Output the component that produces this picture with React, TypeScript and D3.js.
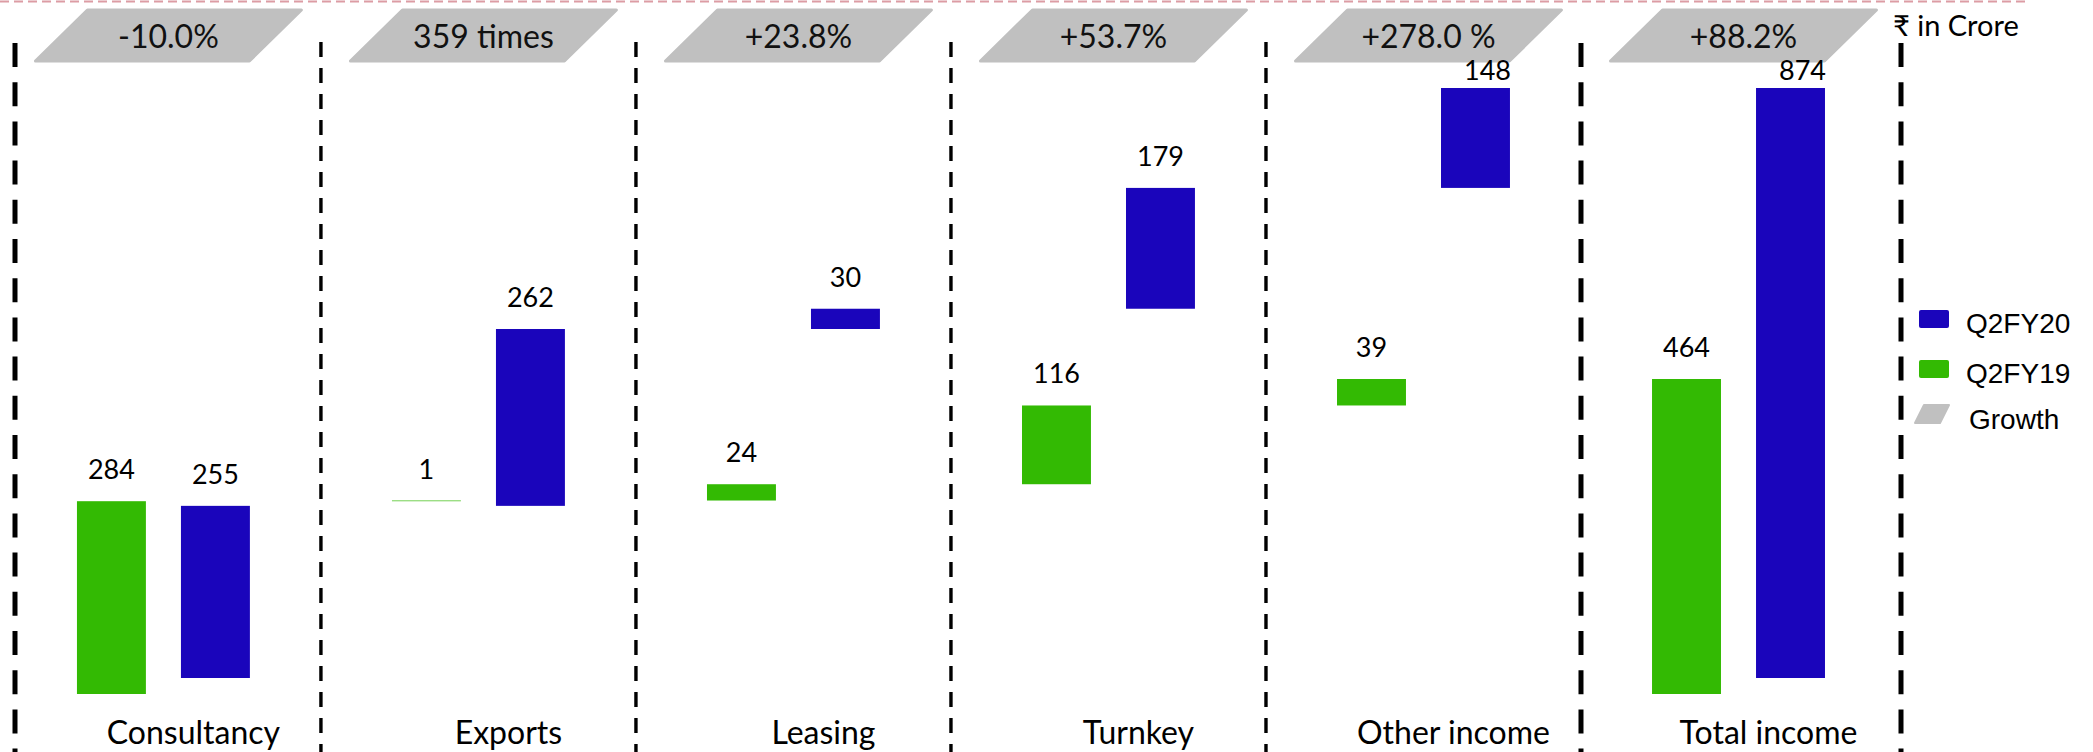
import * as d3 from 'd3';

const categories = ['Consultancy', 'Exports', 'Leasing', 'Turnkey', 'Other income', 'Total income'];
const q2fy19 = [284, 1, 24, 116, 39, 464];
const q2fy20 = [255, 262, 30, 179, 148, 874];
const growthLabels = ['-10.0%', '359 times', '+23.8%', '+53.7%', '+278.0 %', '+88.2%'];
const seriesNames = ['Q2FY19', 'Q2FY20'];
const unitLabel = '₹ in Crore';

const W = 2093;
const H = 752;
const GREEN = '#33ba03';
const BLUE = '#1a05bb';
const GREY = '#c0c0c0';
const FONT = "Lato, 'Noto Sans', sans-serif";
const LEGEND_FONT = "'Liberation Sans', Arial, sans-serif";

// waterfall: each part floats on the running sum, the last one (total) sits on zero
function floating(values: number[]) {
  let acc = 0;
  return values.map((v, i) => {
    if (i === values.length - 1) return { start: 0, end: v, value: v };
    const s = acc;
    acc += v;
    return { start: s, end: acc, value: v };
  });
}

export default function App() {
  const x = d3
    .scaleBand()
    .domain(categories)
    .range([15, 1901])
    .paddingInner(0.451)
    .paddingOuter(0.219)
    .align(0.449);
  const xs = d3.scaleBand().domain(seriesNames).range([0, x.bandwidth()]).paddingInner(0.337);

  const greenParts = floating(q2fy19);
  const blueParts = floating(q2fy20);

  const yGreen = d3
    .scaleLinear()
    .domain([0, q2fy19[q2fy19.length - 1]])
    .range([694, 379]);
  const yBlue = d3
    .scaleLinear()
    .domain([0, q2fy20[q2fy20.length - 1]])
    .range([678, 88]);

  const step = x.step();
  const gap = step - x.bandwidth();
  const dividers = [
    { x: x.range()[0], thick: true },
    ...categories.slice(0, -1).map((c, i) => ({
      x: (x(c) ?? 0) + x.bandwidth() + gap / 2,
      thick: i >= categories.length - 2,
    })),
    { x: x.range()[1], thick: true },
  ];

  const series = [
    { name: 'Q2FY19', parts: greenParts, y: yGreen, color: GREEN },
    { name: 'Q2FY20', parts: blueParts, y: yBlue, color: BLUE },
  ];

  const badgeW = 214;
  const slant = 52;
  const badgeTop = 10;
  const badgeBottom = 61;

  return (
    <svg
      width={W}
      height={H}
      style={{ position: 'absolute', left: 0, top: 0, background: '#fff' }}
      fontFamily={FONT}
    >
      <line x1={0} x2={2030} y1={1.5} y2={1.5} stroke="#dc9ca4" strokeWidth={2} strokeDasharray="9 5" />

      {dividers.map((d, i) => (
        <line
          key={i}
          x1={d.x}
          x2={d.x}
          y1={d.thick ? 43 : 42}
          y2={H}
          stroke="#000"
          strokeWidth={d.thick ? 5 : 3.4}
          strokeDasharray={d.thick ? '24 15.2' : '15 11'}
        />
      ))}

      {categories.map((c, i) => {
        const cx = (x(c) ?? 0) + x.bandwidth() / 2 + 5;
        const pts = [
          [cx - badgeW / 2 - slant / 2, badgeBottom],
          [cx - badgeW / 2 + slant / 2, badgeTop],
          [cx + badgeW / 2 + slant / 2, badgeTop],
          [cx + badgeW / 2 - slant / 2, badgeBottom],
        ];
        return (
          <g key={c}>
            <polygon
              points={pts.map((p) => p.join(',')).join(' ')}
              fill={GREY}
              stroke={GREY}
              strokeWidth={3}
              strokeLinejoin="round"
            />
            <text x={cx} y={48} textAnchor="middle" fontSize={32} fill="#111">
              {growthLabels[i]}
            </text>
          </g>
        );
      })}

      {series.map((s) =>
        categories.map((c, i) => {
          const p = s.parts[i];
          const bx = (x(c) ?? 0) + (xs(s.name) ?? 0);
          const top = s.y(p.end);
          const bottom = s.y(p.start);
          const ly = top - 22;
          // labels that would hit the growth badges are kept just under them, nudged right like the original
          const clamped = ly < 80;
          return (
            <g key={s.name + c}>
              <rect x={bx} y={top} width={xs.bandwidth()} height={Math.max(bottom - top, 0)} fill={s.color} />
              <text
                x={bx + xs.bandwidth() / 2 + (clamped ? 12 : 0)}
                y={clamped ? 80 : ly}
                textAnchor="middle"
                fontSize={27}
                fill="#000"
              >
                {p.value}
              </text>
            </g>
          );
        })
      )}

      {categories.map((c) => (
        <text key={c} x={(x(c) ?? 0) + x.bandwidth() / 2 + 30} y={744} textAnchor="middle" fontSize={32} fill="#000">
          {c}
        </text>
      ))}

      <text x={1893} y={36} fontSize={29} fill="#000">
        {unitLabel}
      </text>

      <g fontFamily={LEGEND_FONT} fontSize={28} fill="#000">
        <rect x={1919} y={310} width={30} height={18} rx={2} fill={BLUE} />
        <text x={1966} y={333}>{seriesNames[1]}</text>
        <rect x={1919} y={360} width={30} height={18} rx={2} fill={GREEN} />
        <text x={1966} y={383}>{seriesNames[0]}</text>
        <polygon
          points="1915,423 1924,405 1949,405 1940,423"
          fill={GREY}
          stroke={GREY}
          strokeWidth={2}
          strokeLinejoin="round"
        />
        <text x={1969} y={429}>Growth</text>
      </g>
    </svg>
  );
}
